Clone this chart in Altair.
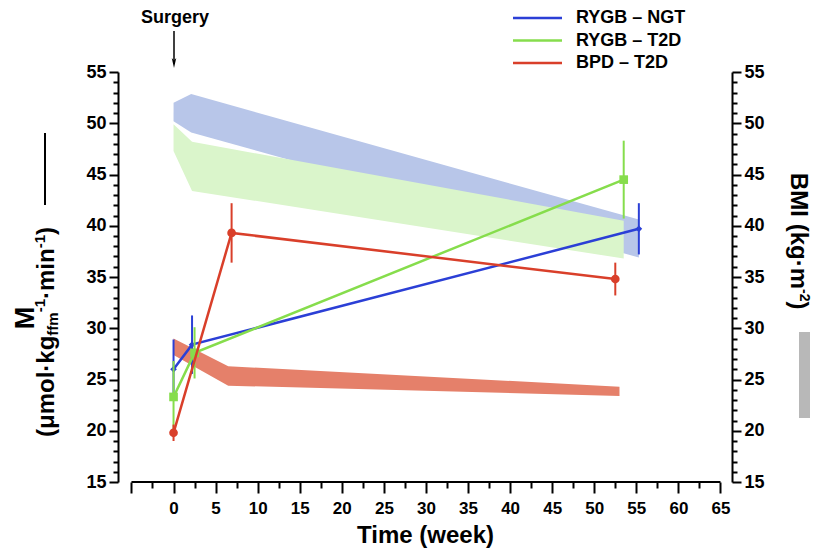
import altair as alt
import pandas as pd

# ---------------- data ----------------
groups = ["RYGB – NGT", "RYGB – T2D", "BPD – T2D"]
line_colors = ["#2b3fd6", "#86dd4c", "#d93f2a"]
band_colors = ["#b8c6e9", "#daf5cb", "#e5806a"]
point_shapes = ["diamond", "square", "circle"]
point_sizes = [45, 75, 75]

# M (left axis): mean and error (weeks after surgery)
ngt_weeks = [0, 2.2, 55.3]
ngt_m = [26.0, 28.4, 39.7]
ngt_err = [2.9, 2.85, 2.5]
t2d_weeks = [0, 2.5, 53.5]
t2d_m = [23.3, 27.6, 44.5]
t2d_err = [3.5, 2.5, 3.8]
bpd_weeks = [0, 6.9, 52.5]
bpd_m = [19.8, 39.3, 34.8]
bpd_err = [0.8, 2.9, 1.6]

# BMI bands (right axis): low / high
ngt_bmi_weeks = [0, 2.1, 55.3]
ngt_bmi_low = [50.2, 49.1, 36.9]
ngt_bmi_high = [52.0, 52.85, 40.6]
t2d_bmi_weeks = [0, 2.2, 53.5]
t2d_bmi_low = [47.3, 43.4, 36.8]
t2d_bmi_high = [49.9, 48.2, 40.5]
bpd_bmi_weeks = [0, 6.5, 53.0]
bpd_bmi_low = [27.4, 24.4, 23.4]
bpd_bmi_high = [29.0, 26.3, 24.3]

x_major = [-5, 0, 5, 10, 15, 20, 25, 30, 35, 40, 45, 50, 55, 60, 65]
x_minor = [-2.5, 2.5, 7.5, 12.5, 17.5, 22.5, 27.5, 32.5, 37.5, 42.5, 47.5, 52.5, 57.5, 62.5]
y_major = [15, 20, 25, 30, 35, 40, 45, 50, 55]
y_minor = [v for v in range(15, 56) if v % 5 != 0]

# ---------------- layout ----------------
FONT = "Liberation Sans"
W, H = 614, 410
LEFT, TOP = 118, 72  # page position of plot origin
X_DOM = [-6.6, 66.37]
Y_DOM = [15, 55]
xs = alt.Scale(domain=X_DOM, nice=False, zero=False)
ys = alt.Scale(domain=Y_DOM, nice=False, zero=False)


def px(v):
    return v - LEFT


def py(v):
    return v - TOP


layers = []

# bands
for weeks, lo, hi, col in [
    (ngt_bmi_weeks, ngt_bmi_low, ngt_bmi_high, band_colors[0]),
    (t2d_bmi_weeks, t2d_bmi_low, t2d_bmi_high, band_colors[1]),
    (bpd_bmi_weeks, bpd_bmi_low, bpd_bmi_high, band_colors[2]),
]:
    df = pd.DataFrame({"week": weeks, "lo": lo, "hi": hi})
    layers.append(
        alt.Chart(df).mark_area(color=col, opacity=1).encode(
            x=alt.X("week:Q", scale=xs, axis=None),
            y=alt.Y("lo:Q", scale=ys, axis=None),
            y2="hi:Q",
        )
    )

# series
series = [
    (ngt_weeks, ngt_m, ngt_err),
    (t2d_weeks, t2d_m, t2d_err),
    (bpd_weeks, bpd_m, bpd_err),
]
for i, (weeks, m, err) in enumerate(series):
    df = pd.DataFrame({
        "week": weeks, "m": m,
        "lo": [a - e for a, e in zip(m, err)],
        "hi": [a + e for a, e in zip(m, err)],
    })
    col = line_colors[i]
    layers.append(
        alt.Chart(df).mark_rule(color=col, strokeWidth=2).encode(
            x=alt.X("week:Q", scale=xs, axis=None),
            y=alt.Y("lo:Q", scale=ys, axis=None),
            y2="hi:Q",
        )
    )
    layers.append(
        alt.Chart(df).mark_line(color=col, strokeWidth=2.5).encode(
            x=alt.X("week:Q", scale=xs, axis=None),
            y=alt.Y("m:Q", scale=ys, axis=None),
        )
    )
    layers.append(
        alt.Chart(df).mark_point(filled=True, shape=point_shapes[i], size=point_sizes[i],
                                 color=col, opacity=1).encode(
            x=alt.X("week:Q", scale=xs, axis=None),
            y=alt.Y("m:Q", scale=ys, axis=None),
        )
    )

# ---------------- axes ----------------
lab = dict(labelFont=FONT, labelFontWeight="bold", labelColor="black")
tick = dict(tickColor="black", tickWidth=2, grid=False)

xaxis_line = alt.Chart(pd.DataFrame({"week": [-5, 65], "y": [15, 15]})).mark_line(
    color="black", strokeWidth=2).encode(
    x=alt.X("week:Q", scale=xs, axis=alt.Axis(
        values=x_major, orient="bottom", tickSize=11, domain=False,
        labelExpr="datum.value == -5 ? '' : datum.label",
        labelFontSize=17, labelPadding=7, labelFlush=False, labelOverlap=False,
        title="Time (week)", titleFont=FONT, titleFontSize=24, titleFontWeight="bold",
        titleColor="black", titlePadding=7, **lab, **tick)),
    y=alt.Y("y:Q", scale=ys, axis=None),
)
layers.append(xaxis_line)

layers.append(
    alt.Chart(pd.DataFrame({"week": x_minor})).mark_point(opacity=0).encode(
        x=alt.X("week:Q", scale=xs, axis=alt.Axis(
            values=x_minor, orient="bottom", tickSize=6, domain=False, labels=False,
            title="", **tick)),
    )
)

for orient in ["left", "right"]:
    layers.append(
        alt.Chart(pd.DataFrame({"v": y_major})).mark_point(opacity=0).encode(
            y=alt.Y("v:Q", scale=ys, axis=alt.Axis(
                values=y_major, orient=orient, tickSize=9, domain=True, domainColor="black",
                domainWidth=2, labelFontSize=18, labelPadding=3, title="", **lab, **tick)),
        )
    )
    layers.append(
        alt.Chart(pd.DataFrame({"v": y_minor})).mark_point(opacity=0).encode(
            y=alt.Y("v:Q", scale=ys, axis=alt.Axis(
                values=y_minor, orient=orient, tickSize=5, domain=False, labels=False,
                title="", **tick)),
        )
    )


# ---------------- annotations ----------------
def txt(text, x, y, size, angle=0, align="left", baseline="alphabetic", color="black"):
    return alt.Chart(pd.DataFrame({"t": [text]})).mark_text(
        font=FONT, fontSize=size, fontWeight="bold", angle=angle, align=align,
        baseline=baseline, color=color).encode(
        x=alt.value(x), y=alt.value(y), text="t:N")


CW = {"(": 0.333, ")": 0.333, "μ": 0.611, "m": 0.889, "o": 0.611, "l": 0.278, "·": 0.333,
      "k": 0.556, "g": 0.611, "f": 0.333, "i": 0.278, "n": 0.611, "-": 0.333, "1": 0.556,
      "2": 0.556, "B": 0.722, "M": 0.833, "I": 0.278, " ": 0.278}


def tw(s, size):
    return sum(CW.get(c, 0.6) for c in s) * size


# legend
leg_y = [18, 40.5, 63]
for i, g in enumerate(groups):
    layers.append(
        alt.Chart(pd.DataFrame({"g": [g]})).mark_rule(color=line_colors[i], strokeWidth=2.5).encode(
            x=alt.value(px(513)), x2=alt.value(px(562)), y=alt.value(py(leg_y[i]))))
    layers.append(txt(g, px(576), py(leg_y[i]), 18, baseline="middle"))

# Surgery arrow
layers.append(txt("Surgery", px(175), py(18), 18, align="center", baseline="middle"))
layers.append(
    alt.Chart(pd.DataFrame({"a": [1]})).mark_rule(color="black", strokeWidth=1.5).encode(
        x=alt.value(px(174)), y=alt.value(py(31)), y2=alt.value(py(64))))
layers.append(
    alt.Chart(pd.DataFrame({"a": [1]})).mark_point(
        shape="M -0.45 -1 L 0 1 L 0.45 -1 L 0 -0.5 Z", size=100, filled=True,
        color="black", opacity=1).encode(
        x=alt.value(px(174)), y=alt.value(py(63))))

# left title: M + units (rotated)
layers.append(txt("M", px(26), py(318), 27, angle=270, align="center", baseline="middle"))
base_x = 54
ypos = 437
pieces = [("(μmol·kg", 24, 0), ("ffm", 15, 4), ("-1", 15, -9), ("·min", 24, 0), ("-1", 15, -9), (")", 24, 0)]
for s, size, dx in pieces:
    layers.append(txt(s, px(base_x + dx), py(ypos), size, angle=270))
    ypos -= tw(s, size)
layers.append(
    alt.Chart(pd.DataFrame({"a": [1]})).mark_rule(color="black", strokeWidth=2).encode(
        x=alt.value(px(45)), y=alt.value(py(133)), y2=alt.value(py(205))))

# right title
rbase = 791
ypos = 173
rpieces = [("BMI (kg·m", 24, 0), ("-2", 14, 9), (")", 24, 0)]
for s, size, dx in rpieces:
    layers.append(txt(s, px(rbase + dx), py(ypos), size, angle=90))
    ypos += tw(s, size)
layers.append(
    alt.Chart(pd.DataFrame({"a": [1]})).mark_rect(color="#b8b8b8").encode(
        x=alt.value(px(799)), x2=alt.value(px(810)), y=alt.value(py(332)), y2=alt.value(py(418))))

chart = alt.layer(*layers).resolve_axis(x="independent", y="independent").properties(
    width=W, height=H,
    padding={"left": LEFT - 8, "top": TOP - 8, "right": 82, "bottom": 70},
    autosize=alt.AutoSizeParams(type="none"),
).configure_view(stroke=None)

chart.save("out.html", embed_options={"renderer": "svg", "actions": False})
